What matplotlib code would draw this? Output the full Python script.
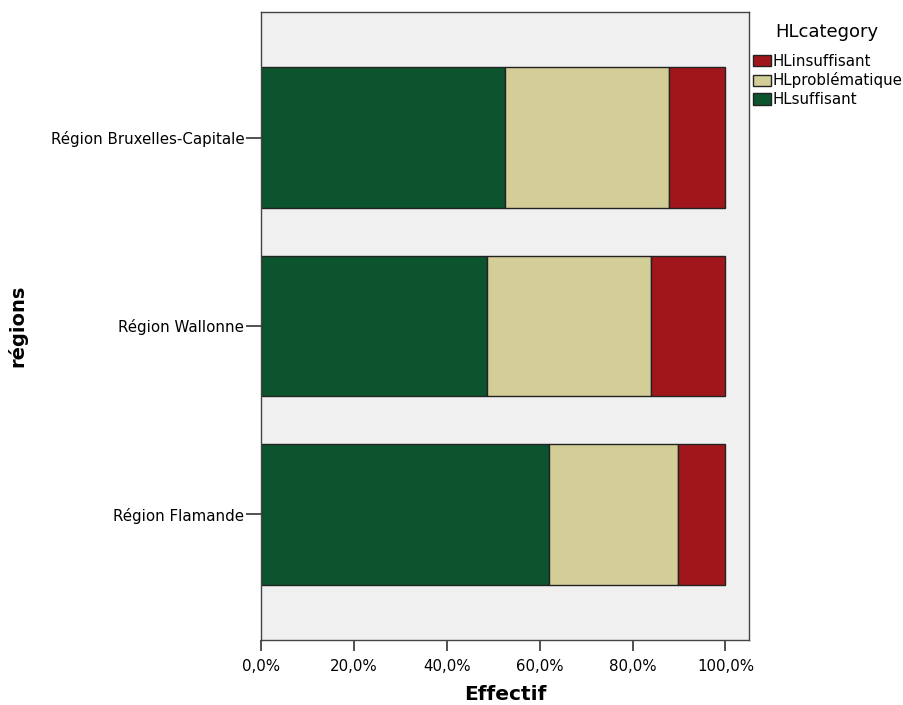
import matplotlib
matplotlib.use("Agg")
import matplotlib.pyplot as plt
from matplotlib.patches import Patch
import numpy as np

plt.rcParams['font.family'] = ['DejaVu Sans']

regions = ["Région Flamande", "Région Wallonne", "Région Bruxelles-Capitale"]
categories = ["HLsuffisant", "HLproblématique", "HLinsuffisant"]
suffisant = [62.0, 48.7, 52.6]
problematique = [27.7, 35.3, 35.3]
insuffisant = [10.3, 16.0, 12.1]
colors = {"HLsuffisant": "#0B542E", "HLproblématique": "#D3CE97", "HLinsuffisant": "#A0161A"}
xticks = [0, 20, 40, 60, 80, 100]

fig = plt.figure(figsize=(9.04, 7.05), dpi=100)
ax = fig.add_axes([0.2887, 0.0922, 0.54, 0.8908])
ax.set_facecolor("#F0F0F0")

y = np.arange(len(regions))
left = np.zeros(len(regions))
for cat, vals in zip(categories, [suffisant, problematique, insuffisant]):
    ax.barh(y, vals, left=left, height=0.746, color=colors[cat],
            edgecolor="#222222", linewidth=1.0, label=cat)
    left += np.array(vals)

ax.set_xlim(0, 105.1)
ax.set_ylim(-0.667, 2.667)
ax.set_xticks(xticks)
ax.set_xticklabels([f"{v},0%" for v in xticks], fontsize=10.8)
ax.set_yticks(y)
ax.set_yticklabels(regions, fontsize=10.8)
ax.tick_params(axis='x', direction='out', length=8, width=1.2, color="#333333", pad=6)
ax.tick_params(axis='y', direction='out', length=11, width=1.2, color="#333333", pad=1)
for s in ax.spines.values():
    s.set_color("#444444")
    s.set_linewidth(1.0)

ax.set_xlabel("Effectif", fontsize=14.5, fontweight='bold')
ax.xaxis.set_label_coords(0.5, -0.0717)
ax.set_ylabel("régions", fontsize=14, fontweight='bold')
ax.yaxis.set_label_coords(-0.478, 0.5)

fig.text(827 / 904, 1 - 37 / 705, "HLcategory", fontsize=13, ha='center', va='baseline')
handles = [Patch(facecolor=colors[c], edgecolor="#222222", label=c)
           for c in ["HLinsuffisant", "HLproblématique", "HLsuffisant"]]
leg = fig.legend(handles=handles, loc="upper left",
                 bbox_to_anchor=(753 / 904, 0.924), frameon=False, fontsize=10.8,
                 handlelength=1.2, handleheight=0.8,
                 handletextpad=0.13, labelspacing=0.26, borderaxespad=0, borderpad=0)

fig.savefig("out.png", dpi=100)
